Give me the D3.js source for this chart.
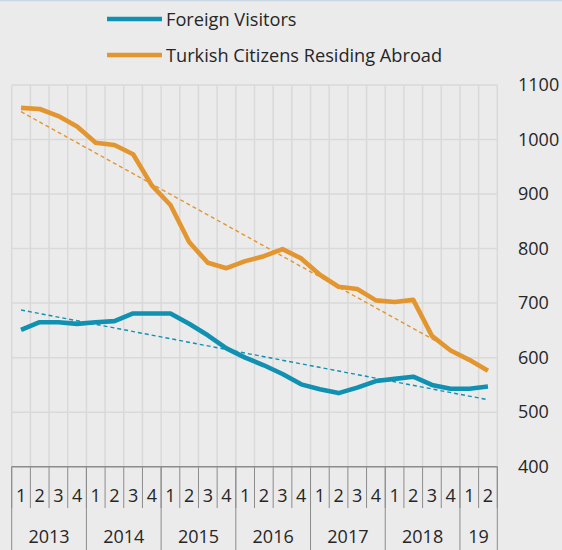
<!DOCTYPE html>
<html>
<head>
<meta charset="utf-8">
<script src="https://cdn.jsdelivr.net/npm/d3@7"></script>
<style>
  body { margin: 0; background: #ebebeb; }
  svg { display: block; font-family: "Open Sans", sans-serif; }
</style>
</head>
<body>
<div id="chart"></div>
<script>
// quarters 2013Q1 .. 2019Q2
var quarters = ["1","2","3","4","1","2","3","4","1","2","3","4","1","2","3","4","1","2","3","4","1","2","3","4","1","2"];
var years = [
  {label: "2013", n: 4}, {label: "2014", n: 4}, {label: "2015", n: 4},
  {label: "2016", n: 4}, {label: "2017", n: 4}, {label: "2018", n: 4}, {label: "19", n: 2}
];
var foreignVisitors = [651,665,665,662,665,667,681,681,681,662,641,617,600,586,570,551,542,535,545,557,561,565,550,543,543,547];
var turkishAbroad = [1058,1056,1043,1024,994,990,973,916,880,812,774,764,777,786,799,782,752,730,726,705,702,706,640,613,596,576];
var yTicks = [400,500,600,700,800,900,1000,1100];

var W = 562, H = 550;
var plotLeft = 11.7, plotRight = 497.3, plotTop = 85, plotBottom = 466.7;
var qRowBottom = 508;

var blue = "#1191b2", orange = "#e3962f";

var svg = d3.select("#chart").append("svg")
  .attr("width", W).attr("height", H);

svg.append("rect").attr("width", W).attr("height", H).attr("fill", "#ebebeb");
svg.append("line").attr("x1", 0).attr("x2", W).attr("y1", 0.5).attr("y2", 0.5)
  .attr("stroke", "#c9d6e4").attr("stroke-width", 1.5);

var idx = d3.range(quarters.length);
var xScale = d3.scaleBand().domain(idx).range([plotLeft, plotRight]).padding(0);
var yScale = d3.scaleLinear().domain([400, 1100]).range([plotBottom, plotTop]);
var bw = xScale.bandwidth();
function cx(i) { return xScale(i) + bw / 2; }
function bx(k) { return plotLeft + k * bw; }

// grid
var grid = svg.append("g").attr("class", "grid");
grid.selectAll(".hgrid").data(yTicks.filter(function(d){ return d > 400; }))
  .enter().append("line")
  .attr("x1", plotLeft).attr("x2", plotRight)
  .attr("y1", function(d){ return yScale(d); }).attr("y2", function(d){ return yScale(d); })
  .attr("stroke", "#d9d9d9").attr("stroke-width", 1.5);
grid.selectAll(".vgrid").data(d3.range(quarters.length + 1))
  .enter().append("line")
  .attr("x1", bx).attr("x2", bx)
  .attr("y1", plotTop).attr("y2", plotBottom)
  .attr("stroke", "#d9d9d9").attr("stroke-width", 1.5);

// right axis labels
var yaxis = d3.axisRight(yScale).tickValues(yTicks).tickFormat(d3.format("d"))
  .tickSize(0).tickPadding(0);
var ya = svg.append("g").attr("transform", "translate(518,0)").call(yaxis);
ya.select(".domain").remove();
ya.selectAll("text").attr("font-size", 18).attr("fill", "#262626")
  .attr("font-family", "Open Sans, sans-serif");

// category axis (two levels)
var cat = svg.append("g");
cat.selectAll(".qdiv").data(d3.range(quarters.length + 1))
  .enter().append("line")
  .attr("x1", bx).attr("x2", bx)
  .attr("y1", plotBottom).attr("y2", qRowBottom)
  .attr("stroke", "#8c8c8c").attr("stroke-width", 1);
var starts = [];
var acc = 0;
years.forEach(function(y){ starts.push(acc); acc += y.n; });
starts.push(acc);
cat.selectAll(".ydiv").data(starts)
  .enter().append("line")
  .attr("x1", bx).attr("x2", bx)
  .attr("y1", plotBottom).attr("y2", H)
  .attr("stroke", "#8c8c8c").attr("stroke-width", 1);
cat.append("line").attr("x1", plotLeft).attr("x2", plotRight)
  .attr("y1", plotBottom).attr("y2", plotBottom)
  .attr("stroke", "#8c8c8c").attr("stroke-width", 1.5);

cat.selectAll(".qlab").data(quarters)
  .enter().append("text")
  .attr("x", function(d, i){ return cx(i); }).attr("y", 495)
  .attr("text-anchor", "middle").attr("dominant-baseline", "central")
  .attr("font-size", 18).attr("fill", "#262626")
  .text(function(d){ return d; });
cat.selectAll(".ylab").data(years)
  .enter().append("text")
  .attr("x", function(d, i){ return bx(starts[i] + d.n / 2); }).attr("y", 536)
  .attr("text-anchor", "middle").attr("dominant-baseline", "central")
  .attr("font-size", 18).attr("fill", "#262626")
  .text(function(d){ return d.label; });

// linear trend (least squares)
function trend(vals) {
  var n = vals.length, mx = d3.mean(idx), my = d3.mean(vals);
  var sxy = d3.sum(idx, function(i){ return (i - mx) * (vals[i] - my); });
  var sxx = d3.sum(idx, function(i){ return (i - mx) * (i - mx); });
  var b = sxy / sxx, a = my - b * mx;
  return [[0, a], [n - 1, a + b * (n - 1)]];
}

var line = d3.line()
  .x(function(d, i){ return cx(i); })
  .y(function(d){ return yScale(d); });
var tline = d3.line()
  .x(function(d){ return cx(d[0]); })
  .y(function(d){ return yScale(d[1]); });

var series = [
  {name: "Foreign Visitors", values: foreignVisitors, color: blue},
  {name: "Turkish Citizens Residing Abroad", values: turkishAbroad, color: orange}
];

series.forEach(function(s){
  svg.append("path").datum(trend(s.values))
    .attr("d", tline).attr("fill", "none")
    .attr("stroke", s.color).attr("stroke-width", 1.4)
    .attr("stroke-dasharray", "4,3");
});
series.forEach(function(s){
  svg.append("path").datum(s.values)
    .attr("d", line).attr("fill", "none")
    .attr("stroke", s.color).attr("stroke-width", 4.6)
    .attr("stroke-linejoin", "round");
});

// legend
var leg = svg.append("g");
series.forEach(function(s, i){
  var y = 19 + i * 36;
  leg.append("line").attr("x1", 107).attr("x2", 162).attr("y1", y).attr("y2", y)
    .attr("stroke", s.color).attr("stroke-width", 4.5);
  leg.append("text").attr("x", 166).attr("y", y)
    .attr("dominant-baseline", "central")
    .attr("font-size", 18.2).attr("fill", "#262626")
    .text(s.name);
});
</script>
</body>
</html>
